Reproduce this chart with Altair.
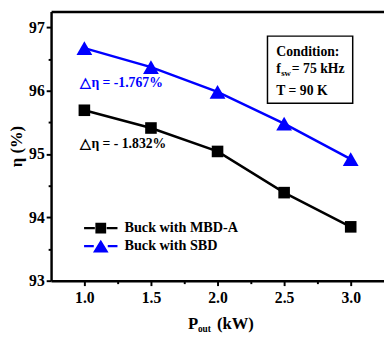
import altair as alt
import pandas as pd

FONT = "Liberation Serif"

# ---- data ----
p_out = [1.0, 1.5, 2.0, 2.5, 3.0]
eff_mbd = [95.69, 95.41, 95.04, 94.39, 93.85]
eff_sbd = [96.67, 96.37, 95.98, 95.48, 94.92]
series_names = ["Buck with MBD-A", "Buck with SBD"]
series_colors = ["#000000", "#0000ff"]
series_shapes = ["square", "triangle-up"]
series_sizes = [140, 260]
legend_paths = [
    "M-3.1,-0.22H-1.1V0.22H-3.1Z M1.1,-0.22H3.1V0.22H1.1Z M-1,-1H1V1H-1Z",
    "M-3.1,-0.22H-1.3V0.22H-3.1Z M1.3,-0.22H3.1V0.22H1.3Z M0,-1.2L1.45,1.15H-1.45Z",
]
x_ticks = [1.0, 1.5, 2.0, 2.5, 3.0]
x_minor = [1.25, 1.75, 2.25, 2.75]
y_ticks = [93, 94, 95, 96, 97]
y_minor = [93.5, 94.5, 95.5, 96.5]
x_domain = [0.75, 3.25]
y_domain = [93, 97.25]

ann_x = [0.97, 0.97]
ann_y = [96.12, 95.15]
ann_text = ["△η = -1.767%", "△η = - 1.832%"]
ann_color = ["#0000ff", "#000000"]

box_x = [2.375]
box_x2 = [3.015]
box_y = [96.86]
box_y2 = [95.80]

cond_x = [2.441, 2.441]
cond_y = [96.554, 95.938]
cond_text = ["Condition:", "T = 90 K"]
fsw_main_x = [2.441, 2.558]
fsw_main_y = [96.277, 96.277]
fsw_main_text = ["f", " = 75 kHz"]
fsw_sub_x = [2.478]
fsw_sub_y = [96.23]
fsw_sub_text = ["sw"]

title_x = [1.779, 1.995]
title_text = ["P", "(kW)"]
title_sub_x = [1.853]
title_sub_text = ["out"]

W, H = 340, 275

df = pd.DataFrame({
    "P": p_out * 2,
    "eta": eff_mbd + eff_sbd,
    "series": [series_names[0]] * len(p_out) + [series_names[1]] * len(p_out),
})

xs = alt.Scale(domain=x_domain, nice=False, zero=False)
ys = alt.Scale(domain=y_domain, nice=False, zero=False)
cs = alt.Scale(domain=series_names, range=series_colors)

axis_style = dict(domainColor="black", tickColor="black", labelColor="black",
                  titleColor="black", grid=False, labelFont=FONT, labelFontWeight="bold",
                  labelFontSize=16, titleFont=FONT, titleFontWeight="bold")

x_major = alt.Axis(orient="bottom", values=x_ticks, format=".1f", tickSize=5, tickWidth=2,
                   domainWidth=2.5, labelPadding=4, title=None, **axis_style)
y_major = alt.Axis(orient="left", values=y_ticks, format="d", tickSize=5, tickWidth=2,
                   domainWidth=2.5, labelPadding=2, title="η (%)", titleFontSize=17,
                   titlePadding=3, **axis_style)
x_min_ax = alt.Axis(orient="bottom", values=x_minor, tickSize=3, tickWidth=2, labels=False,
                    domain=False, title=None, grid=False, tickColor="black")
y_min_ax = alt.Axis(orient="left", values=y_minor, tickSize=3, tickWidth=2, labels=False,
                    domain=False, title=None, grid=False, tickColor="black")
x_top_ax = alt.Axis(orient="top", ticks=False, labels=False, domain=True, domainWidth=2.5,
                    domainColor="black", title=None, grid=False)

lines = alt.Chart(df).mark_line(strokeWidth=2.5).encode(
    x=alt.X("P:Q", scale=xs, axis=x_major),
    y=alt.Y("eta:Q", scale=ys, axis=y_major),
    color=alt.Color("series:N", scale=cs, legend=None),
)

points = alt.Chart(df).mark_point(filled=True, opacity=1).encode(
    x=alt.X("P:Q", scale=xs, axis=x_min_ax),
    y=alt.Y("eta:Q", scale=ys, axis=y_min_ax),
    color=alt.Color("series:N", scale=cs, legend=None),
    shape=alt.Shape("series:N", scale=alt.Scale(domain=series_names, range=series_shapes), legend=None),
    size=alt.Size("series:N", scale=alt.Scale(domain=series_names, range=series_sizes), legend=None),
)

leg = alt.Legend(title=None, orient="none", legendX=43.5, legendY=214, symbolSize=121,
                 symbolStrokeWidth=0, symbolOpacity=1, labelFont=FONT, labelFontWeight="bold",
                 labelFontSize=14.5, labelColor="black", labelOffset=17, rowPadding=3.5,
                 padding=0, labelLimit=300)

legend_layer = alt.Chart(df).mark_point(filled=True, opacity=0).encode(
    x=alt.X("P:Q", scale=xs, axis=x_top_ax),
    y=alt.Y("eta:Q", scale=ys, axis=None),
    color=alt.Color("series:N", scale=cs, legend=leg),
    shape=alt.Shape("series:N", scale=alt.Scale(domain=series_names, range=legend_paths), legend=leg),
)

ann_df = pd.DataFrame({"x": ann_x, "y": ann_y, "t": ann_text, "c": ann_color})
ann = alt.Chart(ann_df).mark_text(align="left", baseline="middle", font=FONT,
                                  fontWeight="bold", fontSize=14).encode(
    x=alt.X("x:Q", scale=xs, axis=None),
    y=alt.Y("y:Q", scale=ys, axis=None),
    text="t:N",
    color=alt.Color("c:N", scale=None),
)

box_df = pd.DataFrame({"x": box_x, "x2": box_x2, "y": box_y, "y2": box_y2})
box = alt.Chart(box_df).mark_rect(fill="white", stroke="black", strokeWidth=1.5).encode(
    x=alt.X("x:Q", scale=xs, axis=None), x2="x2:Q",
    y=alt.Y("y:Q", scale=ys, axis=None), y2="y2:Q",
)

def text_layer(xv, yv, tv, size):
    d = pd.DataFrame({"x": xv, "y": yv, "t": tv})
    return alt.Chart(d).mark_text(align="left", baseline="alphabetic", font=FONT,
                                  fontWeight="bold", fontSize=size, color="black").encode(
        x=alt.X("x:Q", scale=xs, axis=None),
        y=alt.Y("y:Q", scale=ys, axis=None),
        text="t:N",
    )

cond1 = text_layer(cond_x, cond_y, cond_text, 14)
cond2 = text_layer(fsw_main_x, fsw_main_y, fsw_main_text, 14)
cond3 = text_layer(fsw_sub_x, fsw_sub_y, fsw_sub_text, 9)

def title_layer(xv, tv, size, ypix):
    d = pd.DataFrame({"x": xv, "t": tv})
    return alt.Chart(d).mark_text(align="left", baseline="alphabetic", font=FONT,
                                  fontWeight="bold", fontSize=size, color="black").encode(
        x=alt.X("x:Q", scale=xs, axis=None),
        y=alt.value(ypix),
        text="t:N",
    )

xt1 = title_layer(title_x, title_text, 17, 324)
xt2 = title_layer(title_sub_x, title_sub_text, 9.5, 327)

chart = alt.layer(lines, points, legend_layer, ann, box, cond1, cond2, cond3, xt1, xt2).resolve_scale(
    color="independent", shape="independent", size="independent"
).resolve_axis(
    x="independent", y="independent"
).properties(
    width=W, height=H,
    autosize=alt.AutoSizeParams(type="none"),
    padding={"left": 44, "top": 0, "right": 0, "bottom": 54},
    background="white",
).configure_view(stroke="transparent")

chart.save("out.html", embed_options={"renderer": "svg", "actions": False})
